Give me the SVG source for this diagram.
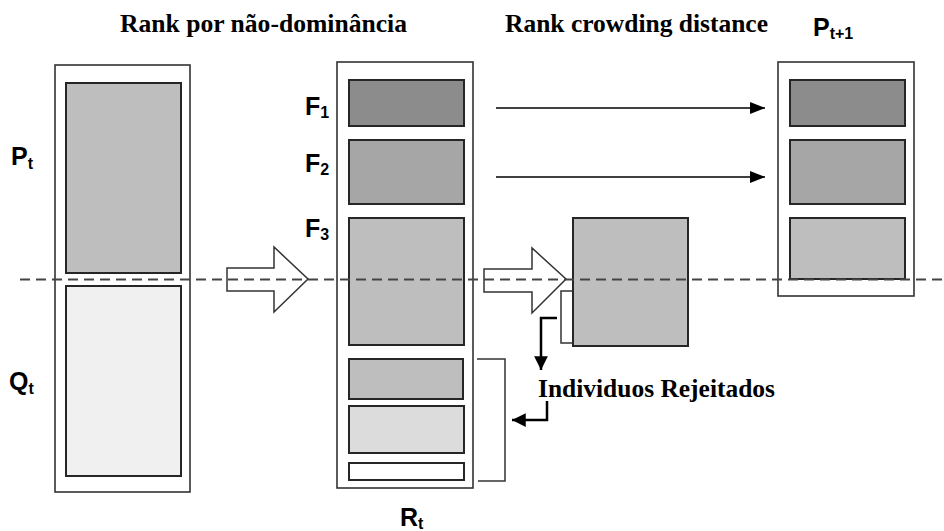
<svg xmlns="http://www.w3.org/2000/svg" width="944" height="531" viewBox="0 0 944 531">
  <style>
    .outer { fill: #ffffff; stroke: #333333; stroke-width: 1.6; }
    .cell { stroke: #262626; stroke-width: 2; }
    .g1 { fill: #8c8c8c; }
    .g2 { fill: #a6a6a6; }
    .g3 { fill: #bebebe; }
    .g4 { fill: #dcdcdc; }
    .g5 { fill: #f0f0f0; }
    .g6 { fill: #ffffff; }
    .lbl { font-family: "Liberation Sans", Arial, sans-serif; font-weight: bold; font-size: 25px; fill: #000; }
    .sub { font-size: 16px; }
    .title { font-family: "Liberation Serif", "Times New Roman", serif; font-weight: bold; font-size: 25px; fill: #000; }
    .hollow { fill: #ffffff; stroke: #333333; stroke-width: 1.5; stroke-linejoin: miter; }
    .thin { fill: none; stroke: #333333; stroke-width: 1.5; }
    .thick { fill: none; stroke: #000000; stroke-width: 2.5; }
    .dash { fill: none; stroke: #444444; stroke-width: 2; stroke-dasharray: 10 6; }
  </style>
  <defs>
    <marker id="head" viewBox="0 0 10 10" refX="10" refY="5" markerWidth="10" markerHeight="8" markerUnits="strokeWidth" orient="auto" preserveAspectRatio="none">
      <path d="M0,0 L10,5 L0,10 Z" fill="#000"/>
    </marker>
    <marker id="headBig" viewBox="0 0 10 10" refX="10" refY="5" markerWidth="5.5" markerHeight="5.5" markerUnits="strokeWidth" orient="auto">
      <path d="M0,0 L10,5 L0,10 Z" fill="#000"/>
    </marker>
  </defs>

  <!-- headings -->
  <text class="title" x="120" y="32" textLength="287" lengthAdjust="spacingAndGlyphs">Rank por não-dominância</text>
  <text class="title" x="505" y="32" textLength="263" lengthAdjust="spacingAndGlyphs">Rank crowding distance</text>

  <!-- combined population Pt + Qt -->
  <g id="pq">
    <rect class="outer" x="55" y="65" width="135" height="427"/>
    <rect class="cell g3" x="66" y="83" width="115" height="190"/>
    <rect class="cell g5" x="66" y="286" width="115" height="190"/>
    <text class="lbl" x="11" y="165">P<tspan class="sub" dy="4">t</tspan></text>
    <text class="lbl" x="9" y="390">Q<tspan class="sub" dy="4">t</tspan></text>
  </g>

  <!-- Rt sorted into fronts -->
  <g id="rt">
    <rect class="outer" x="337" y="62" width="136" height="426"/>
    <rect class="cell g1" x="349" y="80" width="115" height="46"/>
    <rect class="cell g2" x="349" y="140" width="115" height="64"/>
    <rect class="cell g3" x="349" y="218" width="115" height="127"/>
    <rect class="cell g3" x="349" y="359" width="114" height="40"/>
    <rect class="cell g4" x="349" y="406" width="115" height="47"/>
    <rect class="cell g6" x="349" y="463" width="115" height="17"/>
    <text class="lbl" x="305" y="115">F<tspan class="sub" dy="3">1</tspan></text>
    <text class="lbl" x="305" y="172">F<tspan class="sub" dy="3">2</tspan></text>
    <text class="lbl" x="305" y="237">F<tspan class="sub" dy="3">3</tspan></text>
    <text class="lbl" x="400" y="526">R<tspan class="sub" dy="3">t</tspan></text>
  </g>

  <!-- F3 after crowding sort -->
  <g id="crowd">
    <rect class="cell g3" x="573" y="218" width="115" height="128"/>
  </g>

  <!-- next population -->
  <g id="pnext">
    <rect class="outer" x="778" y="62" width="136" height="234"/>
    <rect class="cell g1" x="790" y="80" width="115" height="46"/>
    <rect class="cell g2" x="790" y="140" width="115" height="64"/>
    <rect class="cell g3" x="790" y="218" width="115" height="61"/>
    <text class="lbl" x="813" y="36">P<tspan class="sub" dy="3">t+1</tspan></text>
  </g>

  <!-- rejected label -->
  <g id="rejected">
    <text class="title" x="538" y="397" textLength="237" lengthAdjust="spacingAndGlyphs">Individuos Rejeitados</text>
  </g>

  <!-- connectors -->
  <g id="connectors">
    <path class="hollow" d="M227,268 L274,268 L274,247 L308,279 L274,312 L274,291 L227,291 Z"/>
    <path class="hollow" d="M484,269 L532,269 L532,248 L566,279 L532,313 L532,292 L484,292 Z"/>
    <line x1="496" y1="108" x2="765" y2="108" stroke="#000" stroke-width="1.5" marker-end="url(#head)"/>
    <line x1="496" y1="177" x2="765" y2="177" stroke="#000" stroke-width="1.5" marker-end="url(#head)"/>
    <!-- cut part of F3 -->
    <path class="thin" d="M573,291 L561,291 L561,343 L573,343"/>
    <path class="thick" d="M557,318 L541,318 L541,370" marker-end="url(#headBig)"/>
    <!-- bracket of discarded fronts -->
    <path class="thin" d="M477,359 L505,359 L505,481 L478,481"/>
    <path class="thick" d="M547,401 L547,420 L512,420" marker-end="url(#headBig)"/>
    <!-- population size boundary -->
    <line class="dash" x1="20" y1="279.5" x2="944" y2="279.5"/>
  </g>
</svg>
